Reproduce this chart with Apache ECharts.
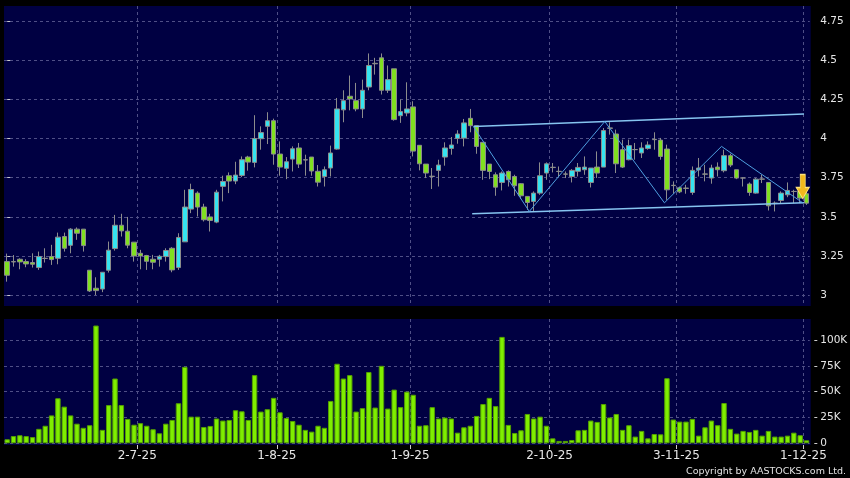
<!DOCTYPE html>
<html><head><meta charset="utf-8">
<script src="https://cdn.jsdelivr.net/npm/echarts@6/dist/echarts.min.js"></script>
<style>html,body{margin:0;padding:0;background:#000;}#c{width:850px;height:478px;}</style>
</head><body><div id="c"></div>
<script>
// ---- data ----
const dates = [
 '2-6-25','3-6-25','4-6-25','5-6-25','6-6-25','9-6-25','10-6-25','11-6-25','12-6-25','13-6-25','16-6-25','17-6-25','18-6-25','19-6-25','20-6-25','23-6-25','24-6-25','25-6-25','26-6-25','27-6-25','30-6-25',
 '2-7-25','3-7-25','4-7-25','7-7-25','8-7-25','9-7-25','10-7-25','11-7-25','14-7-25','15-7-25','16-7-25','17-7-25','18-7-25','21-7-25','22-7-25','23-7-25','24-7-25','25-7-25','28-7-25','29-7-25','30-7-25','31-7-25',
 '1-8-25','4-8-25','5-8-25','6-8-25','7-8-25','8-8-25','11-8-25','12-8-25','13-8-25','14-8-25','15-8-25','18-8-25','19-8-25','20-8-25','21-8-25','22-8-25','25-8-25','26-8-25','27-8-25','28-8-25','29-8-25',
 '1-9-25','2-9-25','3-9-25','4-9-25','5-9-25','8-9-25','9-9-25','10-9-25','11-9-25','12-9-25','15-9-25','16-9-25','17-9-25','18-9-25','19-9-25','22-9-25','23-9-25','24-9-25','25-9-25','26-9-25','29-9-25','30-9-25',
 '2-10-25','3-10-25','6-10-25','8-10-25','9-10-25','10-10-25','13-10-25','14-10-25','15-10-25','16-10-25','17-10-25','20-10-25','21-10-25','22-10-25','23-10-25','24-10-25','27-10-25','28-10-25','30-10-25','31-10-25',
 '3-11-25','4-11-25','5-11-25','6-11-25','7-11-25','10-11-25','11-11-25','12-11-25','13-11-25','14-11-25','17-11-25','18-11-25','19-11-25','20-11-25','21-11-25','24-11-25','25-11-25','26-11-25','27-11-25','28-11-25',
 '1-12-25'
];
const tickLabels = ['2-7-25','1-8-25','1-9-25','2-10-25','3-11-25','1-12-25'];

const opens = [3.215,3.215,3.230,3.215,3.209,3.177,3.236,3.247,3.236,3.375,3.319,3.422,3.422,3.160,3.045,3.040,3.160,3.298,3.447,3.409,3.339,
 3.268,3.254,3.230,3.230,3.247,3.300,3.177,3.341,3.550,3.652,3.563,3.500,3.467,3.695,3.763,3.729,3.765,3.882,3.848,3.999,4.078,
 4.114,3.901,3.810,3.869,3.940,3.865,3.882,3.791,3.758,3.812,3.933,4.183,4.270,4.242,4.189,4.329,4.480,4.515,4.308,4.445,4.146,4.163,
 4.202,3.957,3.837,3.760,3.797,3.882,3.937,4.001,4.003,4.129,4.082,3.976,3.837,3.769,3.720,3.790,3.758,3.712,3.631,3.599,3.652,3.780,
 3.817,3.791,3.774,3.758,3.791,3.801,3.720,3.818,3.818,4.068,4.029,3.929,3.865,3.930,3.908,3.937,3.995,3.990,3.933,3.702,
 3.686,3.684,3.656,3.800,3.774,3.748,3.818,3.795,3.891,3.801,3.749,3.710,3.652,3.742,3.720,3.588,3.605,3.641,3.663,3.663,
 3.648];
const closes = [3.128,3.213,3.213,3.200,3.198,3.247,3.235,3.228,3.371,3.300,3.422,3.396,3.317,3.028,3.030,3.147,3.288,3.447,3.411,3.320,3.251,
 3.251,3.217,3.211,3.249,3.286,3.162,3.369,3.563,3.675,3.563,3.482,3.477,3.658,3.726,3.729,3.767,3.865,3.850,4.000,4.038,4.114,
 3.901,3.818,3.852,3.935,3.837,3.863,3.793,3.722,3.801,3.908,4.189,4.242,4.253,4.189,4.308,4.466,4.477,4.308,4.376,4.121,4.172,4.189,
 3.920,3.839,3.780,3.758,3.831,3.940,3.959,4.029,4.100,4.082,3.950,3.797,3.790,3.690,3.780,3.737,3.699,3.635,3.592,3.652,3.763,3.839,
 3.815,3.790,3.773,3.797,3.816,3.818,3.812,3.780,4.051,4.065,3.839,3.818,3.955,3.929,3.940,3.959,3.993,3.886,3.673,3.700,
 3.660,3.682,3.797,3.812,3.773,3.812,3.801,3.891,3.831,3.748,3.748,3.656,3.741,3.741,3.571,3.587,3.652,3.669,3.662,3.620,
 3.588];
const lows = [3.087,3.183,3.166,3.179,3.177,3.162,3.209,3.194,3.198,3.279,3.268,3.354,3.279,3.021,3.002,3.020,3.145,3.285,3.375,3.300,3.215,
 3.166,3.162,3.166,3.183,3.215,3.147,3.162,3.341,3.524,3.503,3.471,3.407,3.460,3.599,3.652,3.709,3.754,3.795,3.816,3.929,3.965,
 3.833,3.763,3.741,3.790,3.812,3.763,3.763,3.694,3.694,3.758,3.929,4.104,4.180,4.174,4.131,4.308,4.408,4.281,4.291,4.114,4.100,4.142,
 3.886,3.797,3.748,3.678,3.694,3.827,3.897,3.967,3.950,4.040,3.903,3.737,3.741,3.635,3.669,3.694,3.635,3.614,3.545,3.535,3.641,3.737,
 3.784,3.758,3.748,3.720,3.758,3.769,3.688,3.748,3.818,4.025,3.780,3.812,3.861,3.865,3.876,3.929,3.929,3.865,3.609,3.648,
 3.652,3.648,3.641,3.758,3.727,3.712,3.758,3.784,3.818,3.741,3.694,3.635,3.648,3.716,3.541,3.535,3.588,3.626,3.588,3.588,
 3.577];
const highs = [3.266,3.257,3.236,3.230,3.268,3.279,3.300,3.322,3.400,3.400,3.428,3.433,3.422,3.160,3.115,3.147,3.343,3.513,3.520,3.500,3.339,
 3.290,3.258,3.258,3.258,3.300,3.307,3.396,3.673,3.712,3.663,3.584,3.520,3.673,3.763,3.784,3.852,3.886,3.890,4.149,4.078,4.168,
 4.127,3.982,3.882,3.950,3.972,3.897,3.882,3.831,3.822,3.955,4.259,4.308,4.402,4.355,4.376,4.543,4.515,4.543,4.466,4.445,4.249,4.359,
 4.238,3.957,3.837,3.812,3.865,3.976,4.010,4.053,4.125,4.189,4.082,3.976,3.837,3.784,3.790,3.797,3.769,3.716,3.631,3.663,3.848,3.848,
 3.844,3.822,3.790,3.805,3.844,3.886,3.812,3.918,4.067,4.104,4.057,3.993,3.993,3.972,3.976,3.982,4.040,4.004,3.961,3.727,
 3.694,3.705,3.822,3.876,3.833,3.833,3.848,3.929,3.903,3.801,3.752,3.720,3.748,3.769,3.720,3.599,3.663,3.720,3.673,3.673,
 3.663];
const volumes = [3900,7000,7800,7000,6000,14000,17000,27000,43600,35500,27000,19000,15000,17500,114000,13000,37000,62700,37000,23600,18000,
 19500,17000,13600,9700,19000,22600,38800,74000,25800,25800,15800,16800,24000,22000,22600,32000,31000,22600,66000,30700,33000,
 44000,30000,24500,21600,18000,13000,11300,17000,15000,41000,77000,62700,66000,30700,34000,69000,34600,75000,33600,52000,35000,50000,
 47000,17000,17500,35000,24000,24900,24000,10300,15500,17000,26500,38000,44000,36000,103000,17800,10000,12600,28400,24000,25800,17000,
 4800,2300,2300,3200,12600,13000,22000,20700,38000,25000,28400,13000,17500,6500,12000,4800,9000,8700,63000,23000,
 21000,21000,23600,7400,15500,22000,17500,39000,14000,9400,12000,11000,13000,7400,12000,6500,6500,7400,10300,7800,
 2900];
// trend lines drawn on the chart: [bar position, price]
const channelUpper = [[73.5,4.077],[125.6,4.156]];
const channelLower = [[73.3,3.520],[125.6,3.590]];
const zigzag = [[73.5,4.077],[82.3,3.535],[94.2,4.109],[103.6,3.590],[112.6,3.950],[125.4,3.590]];
const signalArrow = [[125.4,3.694]];
const priceRange = [3, 4.75, 0.25];
const volumeRange = [0, 100000, 25000];

// ---- chart ----
const candleData = opens.map((o, i) => [o, closes[i], lows[i], highs[i]]);
const isTick = (idx, val) => tickLabels.indexOf(val) >= 0;
const gridColor = '#4f4f86';
const dash = {color: gridColor, type: [3, 3], width: 1};
const labelFont = 'DejaVu Sans';
const panelBg = '#000042';
// layout (pixels)
const L = 4, Rpanel = 39.3, Rdata = 40.3;
const half = (850 - L - Rdata) / dates.length / 2;   // half a bar slot
const noBounds = {outerBoundsMode: 'none', containLabel: false};

const chart = echarts.init(document.getElementById('c'), null, {renderer: 'canvas'});
chart.setOption({
  animation: false,
  backgroundColor: '#000000',
  title: {
    text: 'Copyright by AASTOCKS.com Ltd.', right: 4, bottom: 1, padding: 0,
    textStyle: {color: '#e2e2e2', fontSize: 9.5, fontWeight: 'normal', fontFamily: labelFont}
  },
  grid: [
    Object.assign({left: L, right: Rpanel, top: 6, height: 300, show: true, backgroundColor: panelBg, borderWidth: 0}, noBounds),
    Object.assign({left: L, right: Rdata, top: 21, height: 274.3}, noBounds),
    Object.assign({left: L, right: Rpanel, top: 319, height: 126, show: true, backgroundColor: panelBg, borderWidth: 0}, noBounds),
    Object.assign({left: L, right: Rdata, top: 340, height: 103.3}, noBounds),
    // grids shifted by half a slot: date lines sit on the left edge of each date's slot
    Object.assign({left: L - half, right: Rdata + half, top: 6, height: 300}, noBounds),
    Object.assign({left: L - half, right: Rdata + half, top: 319, height: 126}, noBounds)
  ],
  xAxis: [
    {gridIndex: 0, type: 'value', min: 0, max: 1, show: false},
    {gridIndex: 1, type: 'category', data: dates, boundaryGap: true, show: false},
    {gridIndex: 1, type: 'value', min: -0.5, max: dates.length - 0.5, show: false},
    {gridIndex: 2, type: 'value', min: 0, max: 1, show: false},
    {gridIndex: 3, type: 'category', data: dates, boundaryGap: true, show: false},
    {gridIndex: 4, type: 'category', data: dates, boundaryGap: true,
     axisLine: {show: false}, axisTick: {show: false}, axisLabel: {show: false},
     splitLine: {show: true, interval: isTick, alignWithLabel: true, lineStyle: dash}},
    {gridIndex: 5, type: 'category', data: dates, boundaryGap: true,
     axisLine: {show: false},
     axisTick: {show: true, interval: isTick, alignWithLabel: true, length: 4, lineStyle: {color: '#cccccc'}},
     axisLabel: {show: true, interval: isTick, color: '#e6e6e6', fontSize: 12, fontFamily: labelFont, margin: 5, hideOverlap: false},
     splitLine: {show: true, interval: isTick, alignWithLabel: true, lineStyle: dash}}
  ],
  yAxis: [
    {gridIndex: 0, type: 'value', min: 0, max: 1, show: false},
    {gridIndex: 1, type: 'value', position: 'right', min: priceRange[0], max: priceRange[1], interval: priceRange[2], offset: 3.6 - (Rpanel - Rdata),
     axisLine: {show: false},
     axisTick: {show: true, length: 3, lineStyle: {color: '#cccccc'}},
     axisLabel: {color: '#e6e6e6', fontSize: 10.5, fontFamily: labelFont, margin: 6},
     splitLine: {show: true, lineStyle: dash}},
    {gridIndex: 2, type: 'value', min: 0, max: 1, show: false},
    {gridIndex: 3, type: 'value', position: 'right', min: volumeRange[0], max: volumeRange[1], interval: volumeRange[2], offset: 3.6 - (Rpanel - Rdata),
     axisLine: {show: false},
     axisTick: {show: true, length: 3, lineStyle: {color: '#cccccc'}},
     axisLabel: {color: '#e6e6e6', fontSize: 10.5, fontFamily: labelFont, margin: 6,
       formatter: v => v === 0 ? '0' : (v / 1000) + 'K'},
     splitLine: {show: true, lineStyle: dash}},
    {gridIndex: 4, type: 'value', min: 0, max: 1, show: false},
    {gridIndex: 5, type: 'value', min: 0, max: 1, show: false}
  ],
  series: [
    {type: 'candlestick', xAxisIndex: 1, yAxisIndex: 1, data: candleData, barWidth: 5,
     itemStyle: {color: '#35e3f0', color0: '#80e020', borderColor: '#8c8c8c', borderColor0: '#8c8c8c', borderWidth: 1}},
    {type: 'line', xAxisIndex: 2, yAxisIndex: 1, data: channelUpper, symbol: 'none', z: 5,
     lineStyle: {color: '#86c4f0', width: 1.5}},
    {type: 'line', xAxisIndex: 2, yAxisIndex: 1, data: channelLower, symbol: 'none', z: 5,
     lineStyle: {color: '#86c4f0', width: 1.5}},
    {type: 'line', xAxisIndex: 2, yAxisIndex: 1, data: zigzag, symbol: 'none', z: 5,
     lineStyle: {color: '#4f9fe0', width: 1}},
    {type: 'scatter', xAxisIndex: 2, yAxisIndex: 1, data: signalArrow, z: 6,
     symbol: 'path://M4,0L9,0L9,13L13,13L6.5,24L0,13L4,13Z', symbolSize: [13, 24],
     itemStyle: {color: '#f2b81c', borderColor: '#ffe27a', borderWidth: 1, opacity: 1}},
    {type: 'bar', xAxisIndex: 4, yAxisIndex: 3, data: volumes, barWidth: 5.4, clip: false,
     itemStyle: {color: '#7fee00', borderColor: '#54a000', borderWidth: 1}}
  ]
});
</script></body></html>
